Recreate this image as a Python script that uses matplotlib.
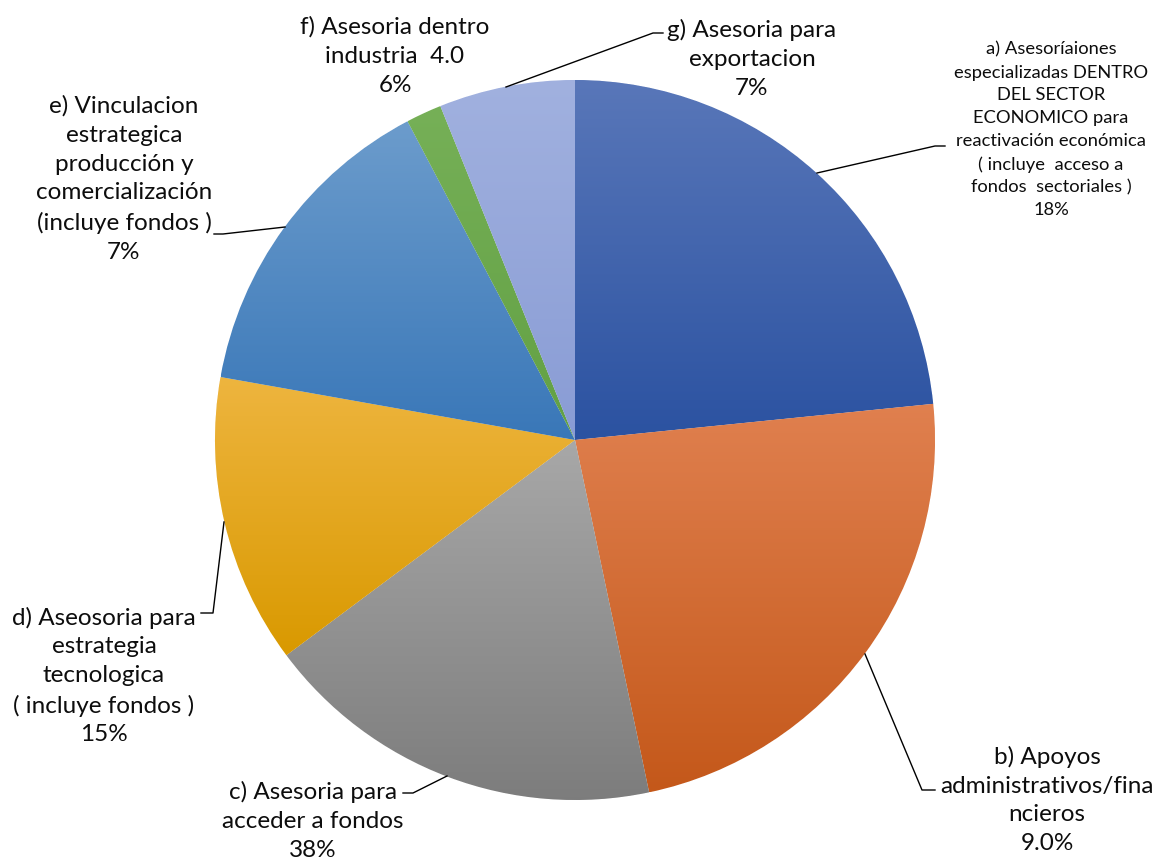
import matplotlib
matplotlib.use("Agg")
import matplotlib.pyplot as plt
import numpy as np
from matplotlib.colors import LinearSegmentedColormap

# ---- data ----
categories = [
    "a) Asesoríaiones\nespecializadas DENTRO\nDEL SECTOR\nECONOMICO para\nreactivación económica\n( incluye  acceso a\nfondos  sectoriales )",
    "b) Apoyos\nadministrativos/fina\nncieros",
    "c) Asesoria para\nacceder a fondos",
    "d) Aseosoria para\nestrategia\ntecnologica\n( incluye fondos )",
    "e) Vinculacion\nestrategica\nproducción y\ncomercialización\n(incluye fondos )",
    "f) Asesoria dentro\nindustria  4.0",
    "g) Asesoria para\nexportacion",
]
slice_values = [23.4, 23.3, 18.1, 13.0, 14.5, 1.6, 6.1]
pct_labels = ["18%", "9.0%", "38%", "15%", "7%", "6%", "7%"]

# ---- style ----
colors_top = ["#5977B9", "#E0804F", "#A8A8A8", "#EEB53F", "#6C9CCC", "#76B057", "#A1B1DF"]
colors_bottom = ["#2B52A1", "#C4581A", "#7C7C7C", "#D99900", "#3977B8", "#62A044", "#899CD5"]
colors_mid = ["#4066AE", "#D46A33", "#939393", "#E4A81F", "#528AC2", "#6BA54E", "#95A7DA"]

W, H = 1162, 863
cx, cy, R = 575, 440, 360

def px(x, y):
    return ((x - cx) / R, (cy - y) / R)

fig = plt.figure(figsize=(W / 100, H / 100), dpi=100)
ax = fig.add_axes([0, 0, 1, 1])

wedges, _ = ax.pie(slice_values, startangle=90, counterclock=False,
                   colors=colors_mid, radius=1, center=(0, 0),
                   wedgeprops=dict(linewidth=0.6, edgecolor="white"))

grad = np.linspace(0, 1, 256).reshape(-1, 1)
for w, ct, cb in zip(wedges, colors_top, colors_bottom):
    verts = w.get_path().vertices
    xmin, xmax = verts[:, 0].min(), verts[:, 0].max()
    ymin, ymax = verts[:, 1].min(), verts[:, 1].max()
    cmap = LinearSegmentedColormap.from_list("g", [ct, cb])
    im = ax.imshow(grad, extent=(xmin, xmax, ymin, ymax), origin="upper",
                   aspect="auto", cmap=cmap, zorder=w.get_zorder() + 0.1,
                   interpolation="bilinear")
    im.set_clip_path(w)

ax.set_aspect("auto")
ax.set_xlim(-cx / R, (W - cx) / R)
ax.set_ylim(-(H - cy) / R, cy / R)
ax.axis("off")

# ---- labels ----
label_pos = [(1051, 130), (1047, 800), (313, 821), (104, 676), (124, 179), (395, 56), (752, 59)]
label_size = [13.2, 17.5, 17.5, 17.5, 17.5, 17.5, 17.5]
label_ls = [1.52, 1.46, 1.46, 1.46, 1.46, 1.46, 1.46]
font = ["Lato", "DejaVu Sans"]
for txt, pct, (x, y), fs, ls in zip(categories, pct_labels, label_pos, label_size, label_ls):
    ax.text(*px(x, y), txt + "\n" + pct, ha="center", va="center",
            multialignment="center", fontsize=fs, family=font, color="#0d0d0d",
            linespacing=ls)

# ---- leader lines ----
leaders = [
    [(817, 173), (935, 146), (945, 146)],
    [(865, 654), (922, 790), (935, 790)],
    [(447, 776), (413, 793), (403, 793)],
    [(224, 522), (213, 613), (201, 613)],
    [(285, 227), (223, 234), (214, 234)],
    None,
    [(506, 87), (653, 33), (663, 33)],
]
for pts in leaders:
    if pts is None:
        continue
    xy = np.array([px(x, y) for x, y in pts])
    ax.plot(xy[:, 0], xy[:, 1], color="black", lw=1.0, zorder=5)

fig.savefig("out.png", dpi=100)
